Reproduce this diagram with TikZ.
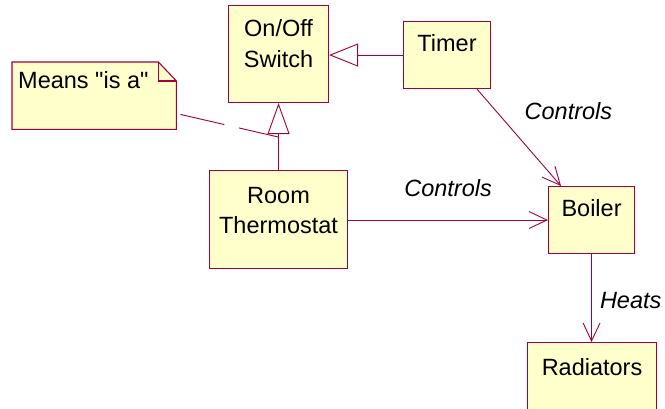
\documentclass[tikz,border=0pt]{standalone}
\usepackage{fontspec}
\setmainfont{Liberation Sans}[Ligatures=TeXOff]
\usetikzlibrary{arrows.meta,calc}
\definecolor{umlline}{RGB}{160,0,60}
\definecolor{umlfill}{RGB}{255,255,204}
\begin{document}
\begin{tikzpicture}[x=1pt,y=-1pt,
  cls/.style={draw=umlline, fill=umlfill, line width=1.1pt, inner sep=0pt, anchor=north west},
  txt/.style={font=\fontsize{23.5}{30.5}\selectfont, align=center, anchor=base, inner sep=0pt},
  lbl/.style={font=\fontsize{23.5}{30.5}\selectfont\itshape, inner sep=0pt, anchor=base west},
  gen/.style={draw=umlline, line width=0.9pt, -{Triangle[open, length=31pt, width=22pt]}},
  assoc/.style={draw=umlline, line width=0.9pt, -{Straight Barb[length=18pt, width=17pt]}},
  notelink/.style={draw=umlline, line width=0.9pt, dash pattern=on 45pt off 15pt},
  ]
\useasboundingbox (0,0) rectangle (665,409);
\clip (0,0) rectangle (665,409);
% classes
\node[cls, minimum width=100pt, minimum height=97pt] (sw) at (228,5) {};
\node[cls, minimum width=87pt, minimum height=67pt] (tm) at (403,21) {};
\node[cls, minimum width=138pt, minimum height=98pt] (th) at (209,170) {};
\node[cls, minimum width=86pt, minimum height=67pt] (bo) at (548,186) {};
\node[cls, minimum width=129pt, minimum height=100pt] (ra) at (527,342) {};
% class names (base = last line)
\node[txt] (swt) at ($(sw.north)+(0,62.5)$) {On/Off\\Switch};
\node[txt] (tmt) at ($(tm.north)+(0,31)$) {Timer};
\node[txt] (tht) at ($(th.north)+(0,63.5)$) {Room\\Thermostat};
\node[txt] (bot) at ($(bo.north)+(0,31)$) {Boiler};
\node[txt] (rat) at ($(ra.north)+(0,33)$) {Radiators};
% note
\node[inner sep=0pt, minimum width=164pt, minimum height=67pt, anchor=north west] (nt) at (12,62) {};
\filldraw[draw=umlline, fill=umlfill, line width=1.1pt]
  (nt.north west) -- ($(nt.north east)+(-18,0)$) -- ($(nt.north east)+(0,19)$)
  -- (nt.south east) -- (nt.south west) -- cycle;
\draw[umlline, line width=1.1pt]
  ($(nt.north east)+(-18,0)$) -- ($(nt.north east)+(-18,19)$) -- ($(nt.north east)+(0,19)$);
\node[txt, anchor=base west] (ntt) at ($(nt.north west)+(6,27)$) {Means "is a"};
% generalizations
\coordinate (gb) at ($(sw.south)+(0,34)$);
\draw[gen] (th.north) -- (sw.south);
\draw[gen, -{Triangle[open, length=29pt, width=23pt]}] (tm.west) -- (tm.west -| sw.east);
\draw[notelink] ($(nt.south east)+(4,-15)$) -- (gb);
% associations
\draw[assoc] ($(tm.south west)+(74,0)$) -- node[lbl, pos=0.3, xshift=22pt, yshift=-1.5pt] (l1) {Controls} ($(bo.north west)+(13,0)$);
\draw[assoc] (th.east |- bo.west) -- node[lbl, midway, anchor=base, yshift=24pt] (l2) {Controls} (bo.west);
\draw[assoc] (bo.south) -- node[lbl, midway, xshift=8pt, yshift=-10.5pt] (l3) {Heats} (bo.south |- ra.north);
\end{tikzpicture}
\end{document}
